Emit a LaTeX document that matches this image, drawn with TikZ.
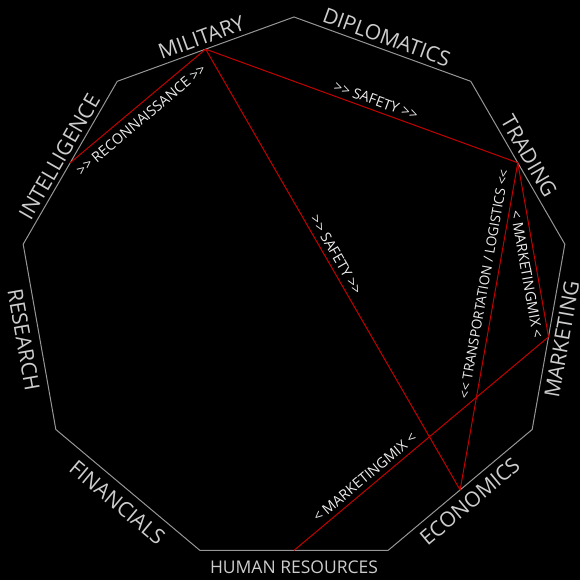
\documentclass[tikz,border=0pt]{standalone}
\usepackage{fontspec}
\setmainfont{Open Sans}
\usetikzlibrary{calc}
\definecolor{edgegray}{RGB}{150,150,150}
\definecolor{labgray}{RGB}{205,205,205}
\definecolor{linkred}{RGB}{195,0,0}
\definecolor{linklab}{RGB}{235,235,235}
\newcommand\dblgt{>\kern0pt>}
\newcommand\dbllt{<\kern0pt<}
\begin{document}
\begin{tikzpicture}[x=1pt,y=1pt,
  side/.style={draw=edgegray, line width=1pt, line join=miter},
  sidelabel/.style={text=labgray, font=\fontsize{21}{24}\selectfont, inner sep=0pt, text height=15pt, text depth=0pt, anchor=center},
  link/.style={draw=linkred, line width=1pt},
  linklabel/.style={text=linklab, font=\fontsize{14.3}{17}\selectfont, inner sep=0pt, text height=10.2pt, text depth=0pt, anchor=center}]
\fill[black] (0,0) rectangle (580,580);
\useasboundingbox (0,0) rectangle (580,580);
\coordinate (c) at (294,288);
\foreach \i/\a in {1/90,2/50,3/10,4/-30,5/-70,6/-110,7/-150,8/170,9/130}
  \coordinate (v\i) at ($(c)+(\a:275)$);
\draw[side] (v1) -- (v2) -- (v3) -- (v4) -- (v5) -- (v6) -- (v7) -- (v8) -- (v9) -- cycle;
% edge midpoints
\coordinate (mDip) at ($(v1)!0.5!(v2)$);
\coordinate (mTra) at ($(v2)!0.5!(v3)$);
\coordinate (mMar) at ($(v3)!0.5!(v4)$);
\coordinate (mEco) at ($(v4)!0.5!(v5)$);
\coordinate (mHR)  at ($(v5)!0.5!(v6)$);
\coordinate (mFin) at ($(v6)!0.5!(v7)$);
\coordinate (mRes) at ($(v7)!0.5!(v8)$);
\coordinate (mInt) at ($(v8)!0.5!(v9)$);
\coordinate (mMil) at ($(v9)!0.5!(v1)$);
% edge labels
\node[sidelabel, rotate=-20] (lDip) at ($(mDip)!12.5pt!90:(v2)$) {DIPLOMATICS};
\node[sidelabel, rotate=-60] (lTra) at ($(mTra)!13pt!90:(v3)$) {TRADING};
\node[sidelabel, rotate=80]  (lMar) at ($(mMar)!13.5pt!90:(v4)$) {MARKETING};
\node[sidelabel, rotate=40]  (lEco) at ($(mEco)!15pt!90:(v5)$) {ECONOMICS};
\node[sidelabel, rotate=0, font=\fontsize{17.5}{20}\selectfont, text height=12.5pt] (lHR) at ($(mHR)!16.5pt!90:(v6)$) {HUMAN RESOURCES};
\node[sidelabel, rotate=-40] (lFin) at ($(mFin)!16.5pt!90:(v7)$) {FINANCIALS};
\node[sidelabel, rotate=-80] (lRes) at ($(mRes)!16pt!90:(v8)$) {RESEARCH};
\node[sidelabel, rotate=60]  (lInt) at ($(mInt)!12.5pt!90:(v9)$) {INTELLIGENCE};
\node[sidelabel, rotate=20]  (lMil) at ($(mMil)!12.5pt!90:(v1)$) {MILITARY};
% links
\draw[link] (mInt) -- (mMil);
\draw[link] (mMil) -- (mTra);
\draw[link] (mMil) -- (mEco);
\draw[link] (mEco) -- (mTra);
\draw[link] (mTra) -- (mMar);
\draw[link] (mHR) -- (mMar);
% link labels
\coordinate (pA) at ($(mInt)!0.464!(mMil)$);
\coordinate (pB) at ($(mMil)!0.535!(mTra)$);
\coordinate (pC) at ($(mMil)!0.478!(mEco)$);
\coordinate (pD) at ($(mEco)!0.623!(mTra)$);
\coordinate (pE) at ($(mTra)!0.63!(mMar)$);
\coordinate (pF) at ($(mHR)!0.304!(mMar)$);
\node[linklabel, rotate=40]  (lA) at ($(pA)!12.5pt!-90:(mMil)$) {\dblgt{} RECONNAISSANCE \dblgt};
\node[linklabel, rotate=-20] (lB) at ($(pB)!10pt!90:(mTra)$) {\dblgt{} SAFETY \dblgt};
\node[linklabel, rotate=-60] (lC) at ($(pC)!10.5pt!90:(mEco)$) {\dblgt{} SAFETY \dblgt};
\node[linklabel, rotate=80, font=\fontsize{13.6}{16}\selectfont] (lD) at ($(pD)!12.5pt!90:(mTra)$) {\dbllt{} TRANSPORTATION / LOGISTICS \dbllt};
\node[linklabel, rotate=-80] (lE) at ($(pE)!10.5pt!-90:(mMar)$) {< MARKETINGMIX <};
\node[linklabel, rotate=40]  (lF) at ($(pF)!10.5pt!90:(mMar)$) {< MARKETINGMIX <};
\end{tikzpicture}
\end{document}
